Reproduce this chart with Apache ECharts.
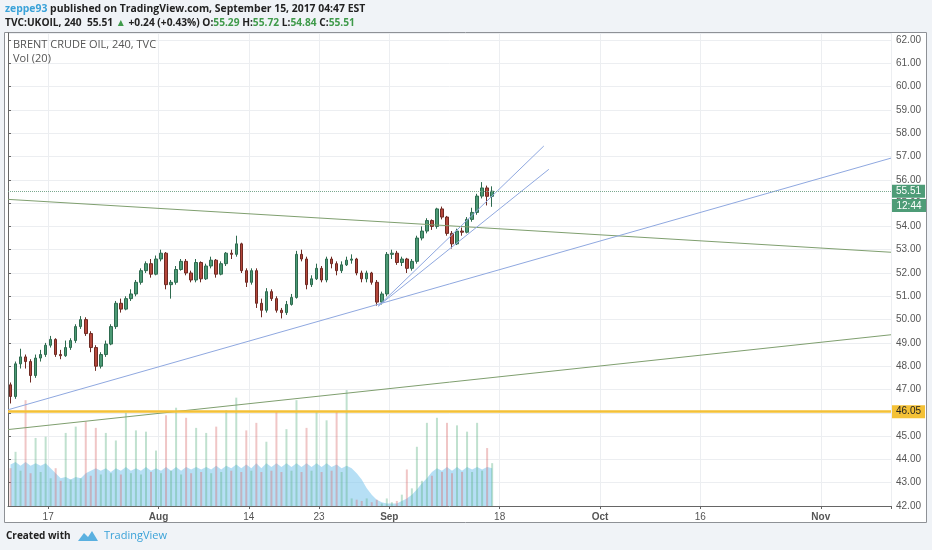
<!DOCTYPE html>
<html>
<head>
<meta charset="utf-8">
<script src="https://cdn.jsdelivr.net/npm/echarts@6/dist/echarts.min.js"></script>
<style>
  html, body { margin: 0; padding: 0; background: #f0f3f7; }
  #main { width: 932px; height: 550px; }
</style>
</head>
<body>
<div id="main"></div>
<script>
// half-day candles, [open, close, low, high]
const candles = [
  [47.2, 46.7, 46.4, 47.3], [46.7, 48.1, 46.6, 48.2], [48.1, 48.4, 47.9, 48.75], [48.4, 48.2, 47.9, 48.5],
  [48.2, 47.6, 47.3, 48.3], [47.6, 48.35, 47.5, 48.5], [48.35, 48.5, 48.2, 48.7], [48.5, 48.9, 48.4, 49.0],
  [48.9, 49.15, 48.8, 49.3], [49.15, 48.5, 48.4, 49.2], [48.5, 48.45, 48.3, 48.7], [48.45, 48.8, 48.4, 49.1],
  [48.8, 49.1, 48.7, 49.2], [49.1, 49.7, 49.0, 49.8], [49.7, 50.0, 49.6, 50.15], [50.0, 49.4, 49.3, 50.1],
  [49.4, 48.8, 48.6, 49.5], [48.8, 48.0, 47.8, 48.9], [48.0, 48.5, 47.9, 48.6], [48.5, 48.95, 48.4, 49.1],
  [48.95, 49.7, 48.9, 49.8], [49.7, 50.7, 49.6, 50.8], [50.7, 50.45, 50.3, 50.9], [50.45, 50.9, 50.4, 51.0],
  [50.9, 51.1, 50.8, 51.3], [51.1, 51.6, 51.0, 51.7], [51.6, 52.1, 51.5, 52.2], [52.1, 52.4, 52.0, 52.5],
  [52.4, 51.95, 51.8, 52.6], [51.95, 52.6, 51.9, 52.75], [52.6, 52.85, 52.5, 53.0], [52.85, 51.5, 51.3, 52.9],
  [51.5, 51.6, 50.9, 51.7], [51.6, 52.15, 51.5, 52.3], [52.15, 52.5, 52.1, 52.6], [52.5, 52.0, 51.9, 52.6],
  [52.0, 51.7, 51.6, 52.1], [51.7, 52.45, 51.6, 52.6], [52.45, 51.75, 51.6, 52.5], [51.75, 52.3, 51.7, 52.4],
  [52.3, 52.55, 52.2, 52.7], [52.55, 51.95, 51.8, 52.6], [51.95, 52.4, 51.9, 52.5], [52.4, 52.85, 52.3, 52.9],
  [52.85, 52.8, 52.6, 53.0], [52.8, 53.25, 52.7, 53.6], [53.25, 52.1, 52.0, 53.3], [52.1, 51.6, 51.4, 52.2],
  [51.6, 52.1, 51.5, 52.2], [52.1, 50.7, 50.5, 52.2], [50.7, 50.4, 50.1, 50.9], [50.4, 51.2, 50.3, 51.35],
  [51.2, 50.9, 50.8, 51.3], [50.9, 50.4, 50.3, 51.0], [50.4, 50.3, 50.05, 50.5], [50.3, 50.65, 50.2, 50.8],
  [50.65, 50.95, 50.6, 51.1], [50.95, 52.8, 50.9, 52.95], [52.8, 52.6, 52.5, 53.0], [52.6, 51.5, 51.3, 52.7],
  [51.5, 51.75, 51.4, 51.9], [51.75, 52.2, 51.7, 52.4], [52.2, 51.7, 51.6, 52.3], [51.7, 52.6, 51.6, 52.7],
  [52.6, 52.4, 52.2, 52.7], [52.4, 52.1, 51.9, 52.5], [52.1, 52.35, 52.0, 52.5], [52.35, 52.55, 52.3, 52.7],
  [52.55, 52.6, 52.4, 52.8], [52.6, 52.0, 51.9, 52.65], [52.0, 51.75, 51.6, 52.1], [51.75, 52.0, 51.6, 52.1],
  [52.0, 51.6, 51.5, 52.05], [51.6, 50.75, 50.6, 51.7], [50.75, 51.1, 50.65, 51.2], [51.1, 52.8, 51.0, 52.9],
  [52.8, 52.85, 52.6, 53.0], [52.85, 52.45, 52.35, 52.95], [52.45, 52.6, 52.3, 52.7], [52.6, 52.2, 52.0, 52.65],
  [52.2, 52.5, 52.1, 52.6], [52.5, 53.5, 52.4, 53.6], [53.5, 53.8, 53.4, 54.0], [53.8, 54.25, 53.7, 54.35],
  [54.25, 54.0, 53.85, 54.3], [54.0, 54.75, 53.9, 54.8], [54.75, 54.4, 54.3, 54.85], [54.4, 53.7, 53.6, 54.45],
  [53.7, 53.25, 53.05, 53.8], [53.25, 53.8, 53.2, 53.9], [53.8, 53.75, 53.6, 53.95], [53.75, 54.3, 53.7, 54.4],
  [54.3, 54.6, 54.2, 54.8], [54.6, 55.3, 54.5, 55.4], [55.3, 55.65, 55.2, 55.9], [55.65, 55.29, 54.9, 55.75],
  [55.29, 55.51, 54.84, 55.72]
];

// volume per candle (relative units) and the Vol(20) average
const volumes = [
  30, 43, 28, 84, 26, 54, 27, 55, 22, 30, 20, 58, 21, 63, 22, 67, 24, 62, 25, 58,
  26, 52, 25, 74, 26, 60, 25, 59, 27, 44, 26, 72, 28, 78, 25, 70, 26, 62, 27, 58,
  26, 63, 27, 76, 28, 86, 27, 60, 28, 66, 27, 51, 28, 75, 27, 61, 28, 84, 27, 62,
  28, 75, 27, 68, 28, 75, 27, 92, 6, 5, 4, 6, 3, 5, 2, 6, 3, 4, 9, 29,
  14, 47, 20, 66, 24, 70, 27, 66, 26, 64, 27, 59, 27, 66, 28, 46, 34
];
const volumeMa = [
  33, 35, 32, 35, 32, 34, 32, 34, 30, 26, 22, 23, 21, 23, 22, 26, 28, 30, 28, 30,
  27, 30, 28, 31, 28, 30, 28, 31, 28, 30, 28, 31, 28, 31, 28, 31, 29, 31, 29, 31,
  29, 32, 29, 32, 30, 33, 30, 33, 30, 34, 30, 34, 31, 34, 31, 34, 31, 34, 31, 34,
  31, 34, 31, 34, 31, 33, 30, 32, 30, 26, 21, 14, 9, 5, 3, 2, 2, 2, 4, 6,
  9, 13, 18, 22, 27, 30, 28, 31, 28, 31, 28, 31, 29, 31, 29, 31, 30
];

// x axis ticks
const tickDates = ['2017-07-17', '2017-08-01', '2017-08-14', '2017-08-23', '2017-09-01', '2017-09-18', '2017-10-02', '2017-10-16', '2017-11-01'];
const tickLabels = ['17', 'Aug', '14', '23', 'Sep', '18', 'Oct', '16', 'Nov'];

// drawn lines: [position in half-day slots, price]
const greenFalling = [[0, 55.16], [176, 52.89]];
const greenRising = [[0, 45.28], [176, 49.35]];
const blueLong = [[0, 46.13], [176, 56.93]];
const blueFanUpper = [[73.8, 50.58], [106.8, 57.45]];
const blueFanLower = [[73.8, 50.58], [107.8, 56.45]];
const supportLevel = 46.05;
const lastPrice = 55.51;

// trading days (no weekends), two slots each
const tradingDays = [];
for (let t = Date.UTC(2017, 6, 11); tradingDays.length < 88; t += 86400000) {
  const wd = new Date(t).getUTCDay();
  if (wd !== 0 && wd !== 6) tradingDays.push(new Date(t).toISOString().slice(0, 10));
}
const slots = [];
tradingDays.forEach(d => { slots.push(d + ' 00'); slots.push(d + ' 12'); });

const isTick = (i, v) => v.endsWith(' 00') && tickDates.indexOf(v.slice(0, 10)) >= 0;

const last = candles[candles.length - 1];
const green = '#3f9a4a';
const font = 'Open Sans';
const pageBg = '#f0f3f7';

const myChart = echarts.init(document.getElementById('main'));
myChart.setOption({
  animation: false,
  backgroundColor: '#fff',
  grid: [
    { left: 8, right: 41, top: 33, bottom: 44 },
    { left: 8, right: 41, top: 380, bottom: 44 }
  ],
  xAxis: [
    {
      type: 'category', data: slots, gridIndex: 0,
      axisLine: { lineStyle: { color: '#666' } },
      axisTick: { show: true, length: 3, interval: isTick, lineStyle: { color: '#666' } },
      axisLabel: {
        interval: isTick, color: '#555', fontSize: 10, fontFamily: 'Liberation Sans', margin: 6,
        padding: [0, 5, 0, 0],
        formatter: v => {
          const s = tickLabels[tickDates.indexOf(v.slice(0, 10))];
          return /[A-Za-z]/.test(s) ? '{m|' + s + '}' : s;
        },
        rich: { m: { fontWeight: 'bold', fontSize: 10, color: '#555' } }
      },
      splitLine: { show: true, interval: isTick, lineStyle: { color: '#eceef1' } }
    },
    { type: 'value', gridIndex: 0, min: 0, max: 176, show: false },
    { type: 'category', data: slots, gridIndex: 1, show: false }
  ],
  yAxis: [
    {
      type: 'value', gridIndex: 0, position: 'right', min: 42, max: 62.3, interval: 1,
      axisLine: { show: true, lineStyle: { color: '#666' } },
      axisTick: { show: true, length: 3, lineStyle: { color: '#666' } },
      axisLabel: {
        color: '#555', fontSize: 10, fontFamily: 'Liberation Sans', margin: 5,
        showMaxLabel: false, formatter: v => v.toFixed(2)
      },
      splitLine: { lineStyle: { color: '#eceef1' } }
    },
    { type: 'value', gridIndex: 1, min: 0, max: 100, show: false }
  ],
  series: [
    {
      name: 'Vol MA', type: 'line', xAxisIndex: 2, yAxisIndex: 1, data: volumeMa,
      symbol: 'none', z: 1,
      lineStyle: { width: 0 },
      areaStyle: { color: 'rgba(125,198,238,0.8)' }
    },
    {
      name: 'Vol', type: 'bar', xAxisIndex: 2, yAxisIndex: 1, barWidth: 2, z: 2,
      data: volumes.map((v, i) => ({
        value: v,
        itemStyle: { color: candles[i][1] >= candles[i][0] ? 'rgba(90,175,130,0.38)' : 'rgba(215,105,105,0.38)' }
      }))
    },
    {
      name: 'UKOIL', type: 'candlestick', xAxisIndex: 0, yAxisIndex: 0, data: candles,
      barWidth: 3, z: 3,
      itemStyle: {
        color: '#4c9a75', color0: '#b4463b',
        borderColor: '#2e6b4f', borderColor0: '#6e2a23', borderWidth: 1
      },
      markLine: {
        silent: true, symbol: ['none', 'none'],
        data: [
          {
            yAxis: supportLevel,
            lineStyle: { color: '#f4c136', width: 2.5, type: 'solid' },
            label: {
              show: true, position: 'end', distance: 1, formatter: supportLevel.toFixed(2),
              backgroundColor: '#f4c136', color: '#222', padding: [2, 4, 1, 4],
              fontSize: 10, fontFamily: 'Liberation Sans'
            }
          },
          {
            yAxis: lastPrice,
            lineStyle: { color: '#7aa88f', width: 1, type: 'dotted' },
            label: {
              show: true, position: 'end', distance: 1, formatter: lastPrice.toFixed(2),
              backgroundColor: '#4e9c77', color: '#fff', padding: [2, 4, 1, 4],
              fontSize: 10, fontFamily: 'Liberation Sans'
            }
          }
        ]
      }
    },
    ...[
      [greenFalling, '#7f9f6f'], [greenRising, '#7f9f6f'],
      [blueLong, '#8fa8e0'], [blueFanUpper, '#8fa8e0'], [blueFanLower, '#8fa8e0']
    ].map(([pts, c]) => ({
      type: 'line', xAxisIndex: 1, yAxisIndex: 0, data: pts, symbol: 'none', z: 4,
      lineStyle: { color: c, width: 1 }, silent: true
    }))
  ]
});

// countdown badge sits under the last price label
const py = Math.round(myChart.convertToPixel({ yAxisIndex: 0 }, lastPrice));

myChart.setOption({
  graphic: [
    // page margins around the white chart frame
    { id: 'bgTop', type: 'rect', silent: true, shape: { x: 0, y: 0, width: 932, height: 32 }, style: { fill: pageBg } },
    { id: 'bgBottom', type: 'rect', silent: true, shape: { x: 0, y: 523, width: 932, height: 27 }, style: { fill: pageBg } },
    { id: 'bgLeft', type: 'rect', silent: true, shape: { x: 0, y: 32, width: 4, height: 491 }, style: { fill: pageBg } },
    { id: 'bgRight', type: 'rect', silent: true, shape: { x: 927, y: 32, width: 5, height: 491 }, style: { fill: pageBg } },
    {
      id: 'frame', type: 'rect', silent: true,
      shape: { x: 4.5, y: 32.5, width: 922, height: 490 },
      style: { fill: null, stroke: '#8e9196', lineWidth: 1 }
    },
    {
      id: 'head1', type: 'text', x: 5, y: 9,
      style: {
        text: '{u|zeppe93} published on TradingView.com, September 15, 2017 04:47 EST',
        fill: '#222', fontSize: 10.4, fontWeight: 'bold', fontFamily: font, verticalAlign: 'middle',
        rich: { u: { fill: '#3aa2d8', fontSize: 10.4, fontWeight: 'bold', fontFamily: font } }
      }
    },
    {
      id: 'head2', type: 'text', x: 5, y: 23,
      style: {
        text: 'TVC:UKOIL, 240  ' + last[1].toFixed(2) + ' {g|▲} +0.24 (+0.43%) O:{g|' + last[0].toFixed(2) +
          '} H:{g|' + last[3].toFixed(2) + '} L:{g|' + last[2].toFixed(2) + '} C:{g|' + last[1].toFixed(2) + '}',
        fill: '#222', fontSize: 10.2, fontWeight: 'bold', fontFamily: font, verticalAlign: 'middle',
        rich: { g: { fill: green, fontSize: 10.2, fontWeight: 'bold', fontFamily: font } }
      }
    },
    {
      id: 'title', type: 'text', x: 13, y: 45,
      style: { text: 'BRENT CRUDE OIL, 240, TVC', fill: '#555', fontSize: 11, fontFamily: font, verticalAlign: 'middle' }
    },
    {
      id: 'vol', type: 'text', x: 13, y: 59,
      style: { text: 'Vol (20)', fill: '#555', fontSize: 11, fontFamily: font, verticalAlign: 'middle' }
    },
    {
      id: 'timer', type: 'group', x: 892, y: py + 8,
      children: [
        { type: 'rect', z: 100, shape: { x: 0, y: 0, width: 34, height: 13 }, style: { fill: '#4e9c77' } },
        { type: 'text', z: 101, x: 17, y: 7, style: { text: '12:44', fill: '#fff', fontSize: 10, fontFamily: 'Liberation Sans', align: 'center', verticalAlign: 'middle' } }
      ]
    },
    {
      id: 'created', type: 'text', x: 6, y: 536,
      style: { text: 'Created with', fill: '#222', fontSize: 10, fontWeight: 'bold', fontFamily: font, verticalAlign: 'middle' }
    },
    {
      id: 'logo', type: 'polygon', x: 78, y: 530,
      shape: { points: [[0, 11], [6, 3], [10, 7], [14, 1], [20, 11]] },
      style: { fill: '#5ab0e0' }
    },
    {
      id: 'tv', type: 'text', x: 104, y: 536,
      style: { text: 'TradingView', fill: '#3aa2d8', fontSize: 11, fontFamily: font, verticalAlign: 'middle' }
    }
  ]
});
</script>
</body>
</html>
